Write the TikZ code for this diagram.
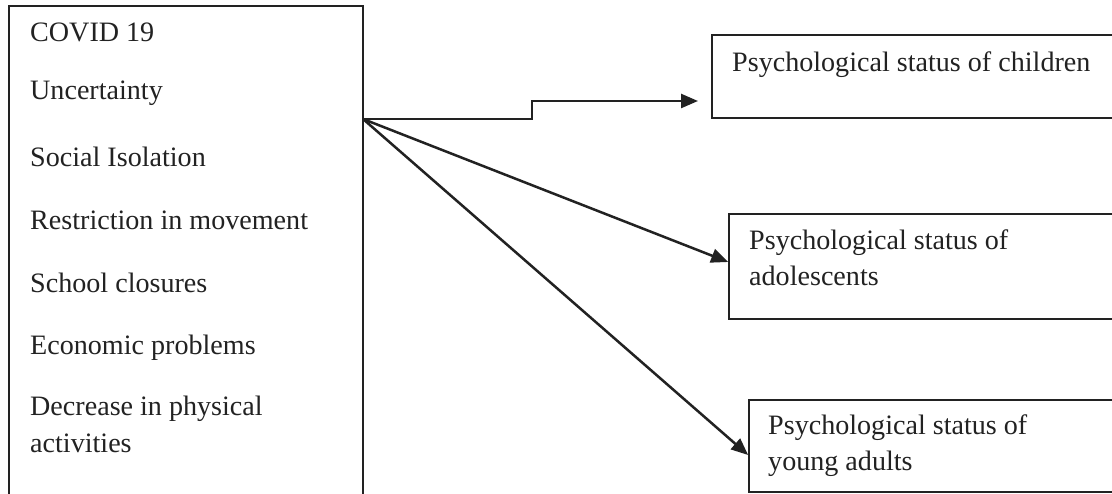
\documentclass[tikz,border=0pt]{standalone}
\usepackage{fontspec}
\setmainfont{Liberation Serif}
\usetikzlibrary{arrows.meta}
\definecolor{ink}{HTML}{222222}
\tikzset{
  boxnode/.style={draw=ink, line width=1.7pt, rectangle, inner sep=0pt},
  lbl/.style={anchor=base west, inner sep=0pt, text=ink, font=\fontsize{28.1}{36}\selectfont},
  arr/.style={draw=ink, line width=2.5pt, -{Triangle[length=17pt,width=14pt]}}
}
\begin{document}
\begin{tikzpicture}[x=1pt,y=-1pt]
\clip (0,0) rectangle (1112,494);
\fill[white] (0,0) rectangle (1112,494);
% boxes
\node[boxnode, minimum width=354pt, minimum height=510pt] (src) at (186,261) {};
\node[boxnode, minimum width=408pt, minimum height=83pt] (b1) at (916,76.5) {};
\node[boxnode, minimum width=391pt, minimum height=105pt] (b2) at (924.5,266.5) {};
\node[boxnode, minimum width=371pt, minimum height=92pt] (b3) at (934.5,446) {};
% left texts
\node[lbl] (t1) at (30,42) {COVID 19};
\node[lbl] (t2) at (30,100) {Uncertainty};
\node[lbl] (t3) at (30,167) {Social Isolation};
\node[lbl] (t4) at (30,230) {Restriction in movement};
\node[lbl] (t5) at (30,293) {School closures};
\node[lbl] (t6) at (30,355) {Economic problems};
\node[lbl] (t7) at (30,416) {Decrease in physical};
\node[lbl] (t8) at (30,453) {activities};
% right texts
\node[lbl] (r1) at (732,72) {Psychological status of children};
\node[lbl] (r2a) at (749,250) {Psychological status of};
\node[lbl] (r2b) at (749,286) {adolescents};
\node[lbl] (r3a) at (768,435) {Psychological status of};
\node[lbl] (r3b) at (768,471) {young adults};
% connectors
\coordinate (o) at (363,119);
\coordinate (s1) at (532,119);
\coordinate (s2) at (532,101);
\coordinate (e1) at (698,101);
\draw[arr] (o) -- (s1) -- (s2) -- (e1);
\draw[arr] (o) -- ([yshift=4.5pt]b2.west);
\draw[arr] (o) -- ([yshift=-9pt]b3.west);
\end{tikzpicture}
\end{document}
